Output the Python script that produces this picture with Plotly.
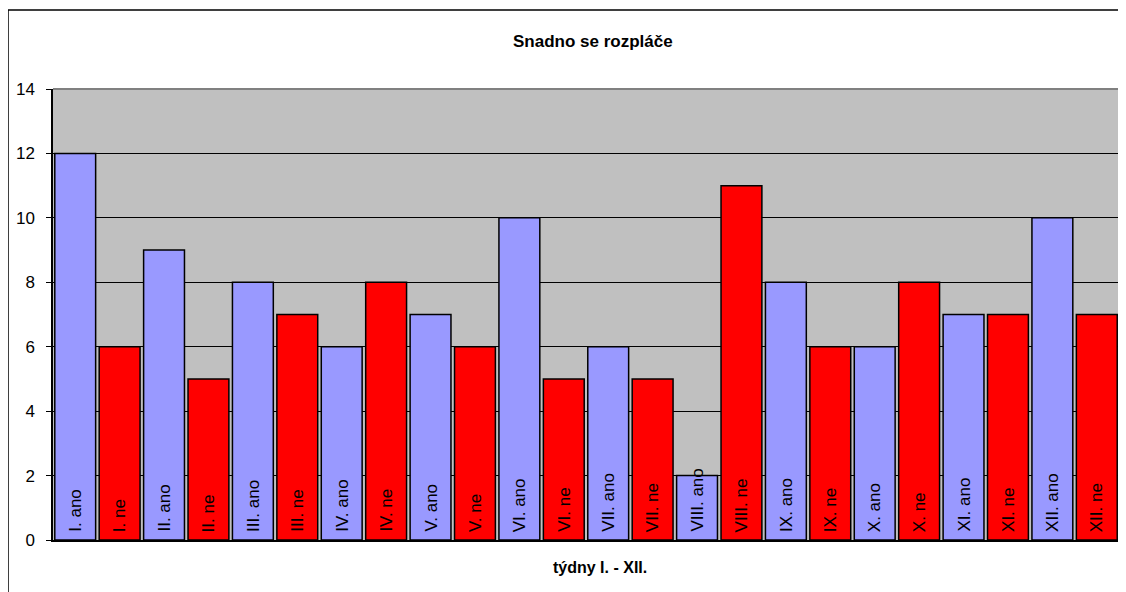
import plotly.graph_objects as go

categories = ["I. ano", "I. ne", "II. ano", "II. ne", "III. ano", "III. ne",
              "IV. ano", "IV. ne", "V. ano", "V. ne", "VI. ano", "VI. ne",
              "VII. ano", "VII. ne", "VIII. ano", "VIII. ne", "IX. ano", "IX. ne",
              "X. ano", "X. ne", "XI. ano", "XI. ne", "XII. ano", "XII. ne"]
values = [12, 6, 9, 5, 8, 7, 6, 8, 7, 6, 10, 5, 6, 5, 2, 11, 8, 6, 6, 8, 7, 7, 10, 7]
y_ticks = [0, 2, 4, 6, 8, 10, 12, 14]

colors = ["#9999FF" if c.endswith("ano") else "#FF0000" for c in categories]

FONT = "Liberation Sans, Arial"
# page body has an 8px margin, so figure coords = screen coords - 8
OFF = 8
W, H = 1126 - OFF, 592 - OFF
L, R, T, B = 53 - OFF, 1119 - OFF, 89 - OFF, 540 - OFF


def px(x):
    return (x - OFF - L) / (R - L)


def py(y):
    return (B - (y - OFF)) / (B - T)


fig = go.Figure()
fig.add_trace(go.Bar(
    x=categories, y=values,
    marker=dict(color=colors, line=dict(color="black", width=1.5)),
    width=0.92,
    hoverinfo="x+y",
))

for c in categories:
    fig.add_annotation(x=c, y=0, text=c, textangle=-90, showarrow=False,
                       yanchor="bottom", yshift=6,
                       font=dict(family=FONT, size=17, color="black"))

fig.add_shape(type="rect", xref="paper", yref="paper",
              x0=px(8), x1=px(1140), y0=py(10), y1=py(610),
              line=dict(color="black", width=1.5), fillcolor="rgba(0,0,0,0)", layer="below")
# plot area border (grey top/right)
fig.add_shape(type="line", xref="paper", yref="paper", x0=0, x1=1, y0=1, y1=1,
              line=dict(color="#808080", width=2))
fig.add_shape(type="line", xref="paper", yref="paper", x0=1, x1=1, y0=0, y1=1,
              line=dict(color="#808080", width=2))

fig.add_annotation(xref="paper", yref="paper", x=px(593), y=py(42),
                   text="<b>Snadno se rozpláče</b>", showarrow=False,
                   xanchor="center", yanchor="middle",
                   font=dict(family=FONT, size=17, color="black"))
fig.add_annotation(xref="paper", yref="paper", x=px(600), y=py(567),
                   text="<b>týdny I. - XII.</b>", showarrow=False,
                   xanchor="center", yanchor="middle",
                   font=dict(family=FONT, size=16, color="black"))

fig.update_layout(
    width=W, height=H,
    margin=dict(l=L, r=W - R, t=T, b=H - B, pad=0),
    paper_bgcolor="white", plot_bgcolor="#C0C0C0",
    showlegend=False, bargap=0.08,
    font=dict(family=FONT, color="black"),
)
fig.update_xaxes(showticklabels=False, ticks="", showgrid=False, showline=True,
                 linecolor="black", linewidth=1.5, zeroline=False)
fig.update_yaxes(range=[0, 14], tickvals=y_ticks, showgrid=True, gridcolor="black", gridwidth=1,
                 showline=True, linecolor="black", linewidth=1.5, ticks="outside",
                 ticklen=5, tickcolor="black", zeroline=False, ticklabelstandoff=8,
                 tickfont=dict(family=FONT, size=17, color="black"))

fig.write_html("out.html")
